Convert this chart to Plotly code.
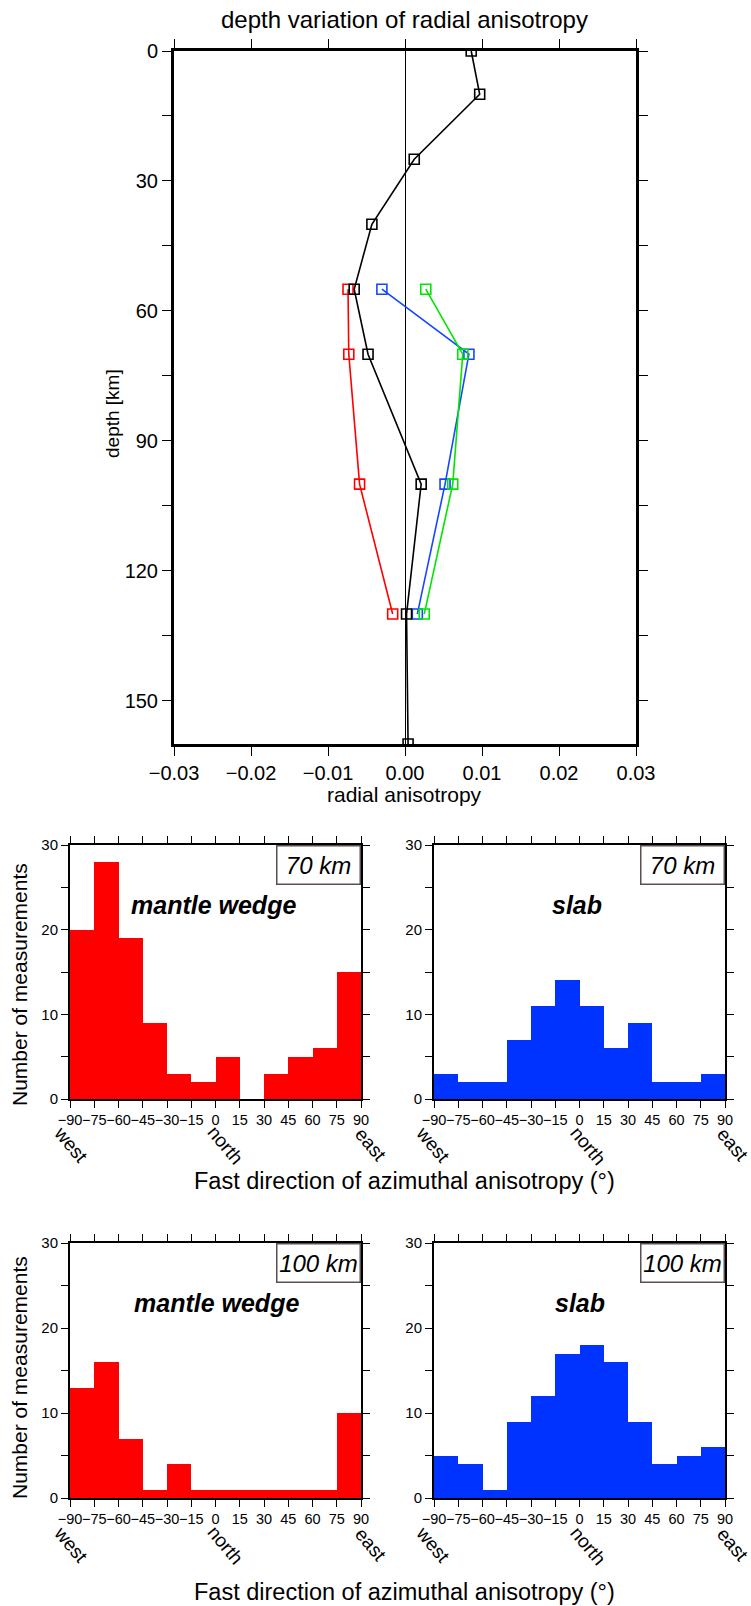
import plotly.graph_objects as go

# ---------------- data ----------------
depth_all = [0, 10, 25, 40, 55, 70, 100, 130, 160]
aniso_all = [0.0086, 0.0097, 0.0012, -0.0043, -0.0066, -0.0048, 0.0021, 0.0002, 0.0004]
depth_sub = [55, 70, 100, 130]
aniso_red = [-0.0074, -0.0073, -0.0059, -0.0016]
aniso_blue = [-0.0030, 0.0083, 0.0052, 0.0016]
aniso_green = [0.0027, 0.0075, 0.0062, 0.0025]

bin_centers = [-82.5, -67.5, -52.5, -37.5, -22.5, -7.5, 7.5, 22.5, 37.5, 52.5, 67.5, 82.5]
wedge_70 = [20, 28, 19, 9, 3, 2, 5, 0, 3, 5, 6, 15]
slab_70 = [3, 2, 2, 7, 11, 14, 11, 6, 9, 2, 2, 3]
wedge_100 = [13, 16, 7, 1, 4, 1, 1, 1, 1, 1, 1, 10]
slab_100 = [5, 4, 1, 9, 12, 17, 18, 16, 9, 4, 5, 6]

x_ticks_top = [-0.03, -0.02, -0.01, 0.0, 0.01, 0.02, 0.03]
x_ticktext_top = ["\u22120.03", "\u22120.02", "\u22120.01", "0.00", "0.01", "0.02", "0.03"]
y_ticks_top = [0, 30, 60, 90, 120, 150]
hist_ticks = [-90, -75, -60, -45, -30, -15, 0, 15, 30, 45, 60, 75, 90]
hist_ticktext = [("\u2212" + str(-v)) if v < 0 else str(v) for v in hist_ticks]
hist_yticks = [0, 10, 20, 30]

W, H = 751, 1606
FONT = "Liberation Sans, Arial, Helvetica, sans-serif"


def fx(p):
    return p / W


def fy(p):
    return 1 - p / H


fig = go.Figure()

# ---------------- top profile ----------------
for xs, ys, col in [
    (aniso_red, depth_sub, "#ff0000"),
    (aniso_blue, depth_sub, "#1447ff"),
    (aniso_green, depth_sub, "#00e600"),
    (aniso_all, depth_all, "#000000"),
]:
    fig.add_trace(go.Scatter(
        x=xs, y=ys, mode="lines+markers",
        line=dict(color=col, width=1.6),
        marker=dict(symbol="square-open", size=10, color=col, line=dict(width=1.6, color=col)),
        xaxis="x", yaxis="y", showlegend=False,
    ))

# ---------------- histograms ----------------
hists = [
    (wedge_70, "#ff0000", "x2", "y2"),
    (slab_70, "#0033ff", "x3", "y3"),
    (wedge_100, "#ff0000", "x4", "y4"),
    (slab_100, "#0033ff", "x5", "y5"),
]
for vals, col, xa, ya in hists:
    fig.add_trace(go.Bar(
        x=bin_centers, y=vals, width=[15] * len(bin_centers),
        marker=dict(color=col, line=dict(width=0)),
        xaxis=xa, yaxis=ya, showlegend=False,
    ))

tickfont_top = dict(family=FONT, size=20, color="black")
tickfont_h = dict(family=FONT, size=14.5, color="black")

layout = dict(
    width=W, height=H,
    margin=dict(l=0, r=0, t=0, b=0, pad=0, autoexpand=False),
    paper_bgcolor="white", plot_bgcolor="white",
    showlegend=False, bargap=0,
    font=dict(family=FONT, color="black"),
)

layout["xaxis"] = dict(
    domain=[fx(174), fx(636)], range=[-0.03, 0.03], anchor="y", automargin=False,
    tickvals=x_ticks_top, ticktext=x_ticktext_top, tickangle=0,
    ticks="outside", ticklen=9, tickwidth=1, tickcolor="black",
    showline=True, linewidth=3, linecolor="black", mirror="allticks",
    showgrid=False, zeroline=True, zerolinecolor="black", zerolinewidth=1,
    tickfont=tickfont_top,
)
layout["yaxis"] = dict(
    domain=[fy(744), fy(51)], range=[160, 0], anchor="x", automargin=False,
    tickvals=y_ticks_top, ticks="outside", ticklen=9, tickwidth=1, tickcolor="black",
    minor=dict(dtick=15, tick0=0, ticks="outside", ticklen=9, tickwidth=1, tickcolor="black", showgrid=False),
    showline=True, linewidth=3, linecolor="black", mirror="allticks",
    showgrid=False, zeroline=False, tickfont=tickfont_top,
)

panels = [
    ("x2", "y2", 70, 361, 845, 1099),
    ("x3", "y3", 434, 725, 845, 1099),
    ("x4", "y4", 70, 361, 1243, 1498),
    ("x5", "y5", 434, 725, 1243, 1498),
]
for xa, ya, x0, x1, y0, y1 in panels:
    xk = "xaxis" + xa[1:]
    yk = "yaxis" + ya[1:]
    layout[xk] = dict(
        domain=[fx(x0), fx(x1)], range=[-90, 90], anchor=ya, automargin=False,
        tickvals=hist_ticks, ticktext=hist_ticktext, tickangle=0,
        ticks="outside", ticklen=7, tickwidth=1, tickcolor="black",
        showline=True, linewidth=2, linecolor="black", mirror="allticks",
        showgrid=False, zeroline=False, tickfont=tickfont_h,
    )
    layout[yk] = dict(
        domain=[fy(y1), fy(y0)], range=[0, 30], anchor=xa, automargin=False,
        tickvals=hist_yticks, ticks="outside", ticklen=7, tickwidth=1, tickcolor="black",
        minor=dict(dtick=5, tick0=0, ticks="outside", ticklen=7, tickwidth=1, tickcolor="black", showgrid=False),
        showline=True, linewidth=2, linecolor="black", mirror="allticks",
        showgrid=False, zeroline=False, tickfont=dict(family=FONT, size=15, color="black"),
    )

ann = []


def A(text, x, y, size, angle=0, **kw):
    d = dict(text=text, x=fx(x), y=fy(y), xref="paper", yref="paper",
             showarrow=False, xanchor="center", yanchor="middle",
             textangle=angle, font=dict(family=FONT, size=size, color="black"))
    d.update(kw)
    ann.append(d)


A("depth variation of radial anisotropy", 405, 19, 24)
A("depth [km]", 113, 413, 19, angle=-90)
A("radial anisotropy", 405, 794, 21)
A("Number of measurements", 19, 985, 21, angle=-90)
A("Number of measurements", 19, 1378, 21, angle=-90)
A("Fast direction of azimuthal anisotropy (\u00b0)", 405, 1181, 23.5)
A("Fast direction of azimuthal anisotropy (\u00b0)", 405, 1592, 23.5)

for dx, dy in [(0, 0), (362, 0), (0, 400), (362, 400)]:
    A("west", 71 + dx, 1144 + dy, 19, angle=50)
    A("north", 226 + dx, 1145 + dy, 19, angle=50)
    A("east", 371 + dx, 1144 + dy, 19, angle=50)

A("<b><i>mantle wedge</i></b>", 214, 905, 25)
A("<b><i>slab</i></b>", 577, 905, 25)
A("<b><i>mantle wedge</i></b>", 217, 1303, 25)
A("<b><i>slab</i></b>", 580, 1303, 25)

for label, xr, yt in [("70 km", 361, 845), ("70 km", 725, 845), ("100 km", 361, 1243), ("100 km", 725, 1243)]:
    ann.append(dict(
        text="<i>" + label + "</i>", x=fx(xr), y=fy(yt), xref="paper", yref="paper",
        showarrow=False, xanchor="right", yanchor="top",
        font=dict(family=FONT, size=24, color="black"),
        bordercolor="#5b4f4f", borderwidth=1.5, borderpad=0, bgcolor="white",
        width=82, height=37, align="center", valign="middle",
    ))

layout["annotations"] = ann
fig.update_layout(**layout)
fig.write_html(
    "out.html",
    config={"displayModeBar": False},
    post_script="document.body.style.margin='0px';document.body.style.padding='0px';document.body.style.overflow='hidden';",
)
